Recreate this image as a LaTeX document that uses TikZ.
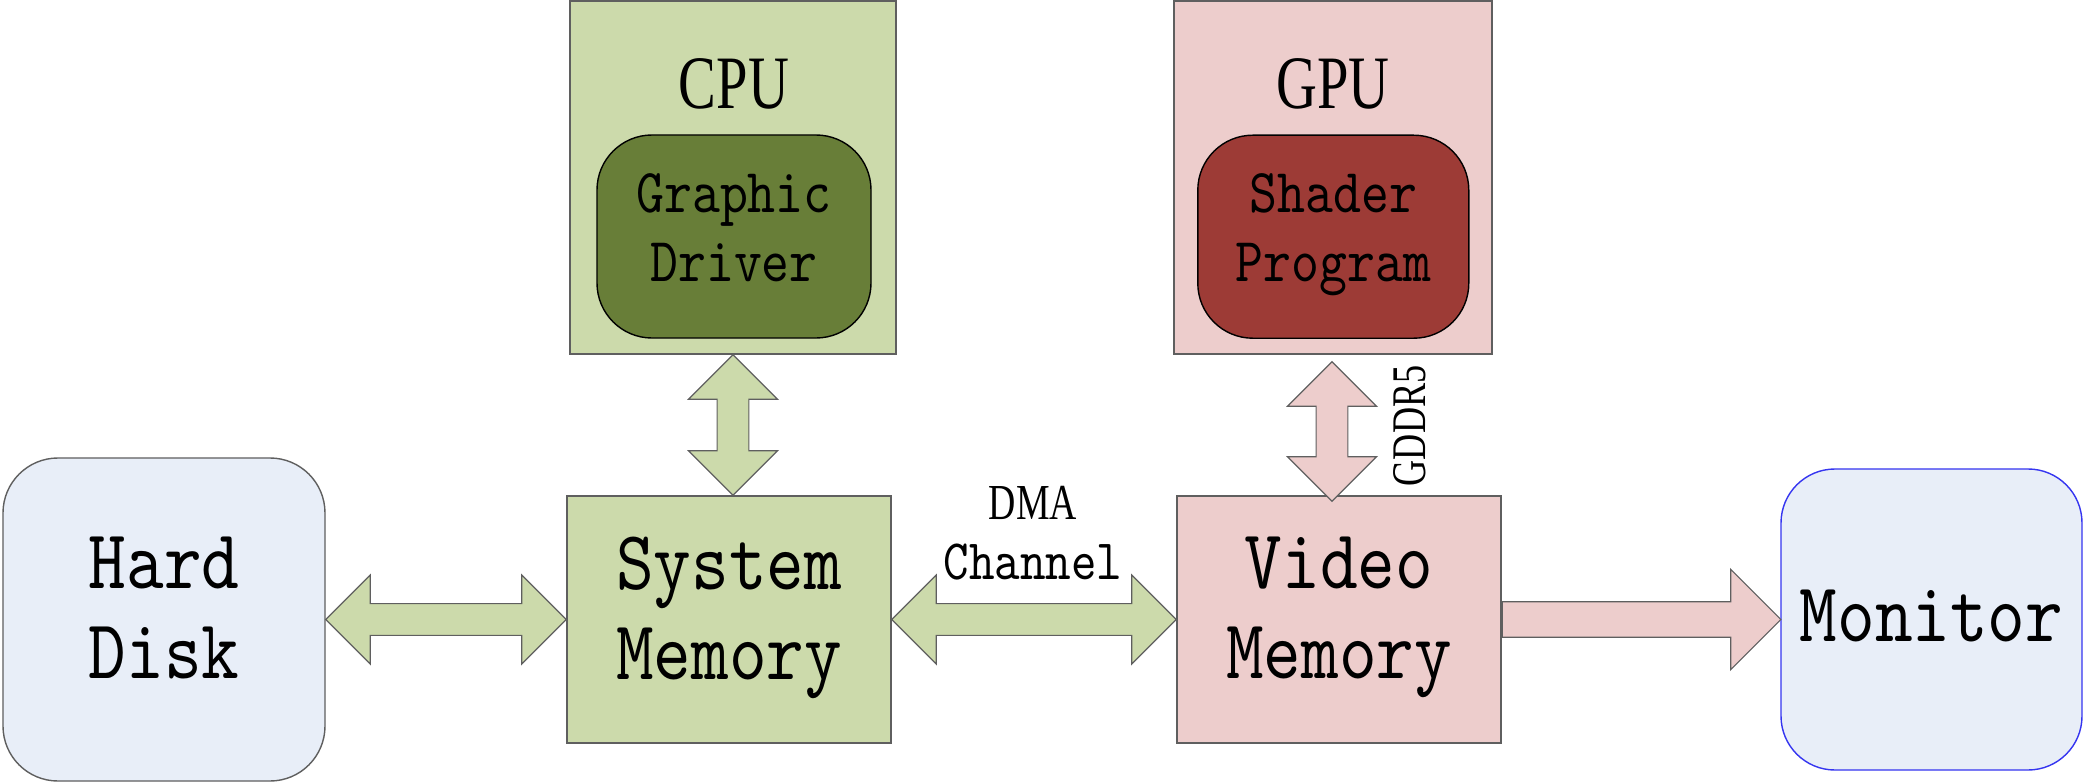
\documentclass[tikz,border=0pt]{standalone}
\usepackage{fontspec}
\usepackage{xcolor}
\usepackage{tikz}
\usetikzlibrary{shapes.arrows, calc}

\newfontfamily\monofont{lmmono10-regular.otf}[FakeStretch=0.85]
\newfontfamily\seriffont[FakeStretch=0.75]{Liberation Serif}
\newcommand{\bigfont}{\monofont\fontsize{36}{38.4}\selectfont}
\newcommand{\midfont}{\monofont\fontsize{26.7}{29.4}\selectfont}
\newcommand{\tstrut}{\rule[-.26\baselineskip]{0pt}{\baselineskip}}

\definecolor{memgreen}{HTML}{CCDAAB}
\definecolor{drvgreen}{HTML}{687E38}
\definecolor{mempink}{HTML}{EDCDCC}
\definecolor{shdred}{HTML}{9D3B36}
\definecolor{diskblue}{HTML}{E8EEF8}
\definecolor{edgegray}{HTML}{5F5F5F}
\definecolor{monblue}{HTML}{3535F0}

% fat bus arrow between two points, sized to their distance
\newcommand{\bus}[3]{\path let \p1=($(#3)-(#2)$), \n1={veclen(\x1,\y1)} in
  (#2) -- node[#1, sloped, minimum height=\n1] {} (#3);}
% one-way version, tail pinned to the start
\newcommand{\feed}[3]{\path let \p1=($(#3)-(#2)$), \n1={veclen(\x1,\y1)} in
  (#2) -- node[#1, sloped, pos=0, anchor=tail, minimum height=\n1] {} (#3);}

\begin{document}
\begin{tikzpicture}[x=0.015cm, y=-0.015cm,
    membox/.style={rectangle, draw=edgegray, line width=0.6pt, minimum width=4.86cm, minimum height=3.705cm, inner sep=0pt, align=center, font=\bigfont, execute at begin node=\tstrut, execute at end node=\tstrut},
    diskbox/.style={membox, fill=diskblue, minimum width=4.83cm, minimum height=4.845cm, rounded corners=0.825cm},
    chipbox/.style={rectangle, draw=edgegray, line width=0.6pt, minimum height=5.295cm, inner sep=0pt},
    unitbox/.style={rectangle, draw=black, line width=0.6pt, rounded corners=0.825cm, minimum height=3.045cm, inner sep=0pt, align=center, font=\midfont, execute at begin node=\tstrut, execute at end node=\tstrut},
    chiptitle/.style={anchor=base, inner sep=0pt, font=\seriffont\fontsize{32.2}{34}\selectfont},
    darrow/.style={double arrow, draw=edgegray, line width=0.5pt, inner xsep=0pt, inner ysep=0.229cm, minimum width=1.32cm, double arrow head extend=0.431cm, double arrow tip angle=90},
    sarrow/.style={single arrow, draw=edgegray, line width=0.5pt, inner xsep=0pt, inner ysep=0.257cm, minimum width=1.49cm, single arrow head extend=0.4875cm, single arrow tip angle=90},
    buslabel/.style={inner sep=0pt, align=center, font=\monofont\fontsize{24.4}{25.6}\selectfont}
]
\useasboundingbox (0,0) rectangle (2085,782);

% Memories and devices
\node[diskbox] (disk) at (164,619.5) {Hard\\Disk};
\node[membox, fill=memgreen] (sysmem) at (729,619.5) {System\\Memory};
\node[membox, fill=mempink] (vidmem) at (1339,619.5) {Video\\Memory};
\node[diskbox, draw=monblue, minimum width=4.515cm, minimum height=4.515cm, rounded corners=0.81cm] (monitor) at (1931.5,619.5) {Monitor};

% Processors
\node[chipbox, fill=memgreen, minimum width=4.89cm] (cpu) at (733,177.5) {};
\node[chiptitle] (cputitle) at (734,108.3) {CPU};
\node[unitbox, fill=drvgreen, minimum width=4.11cm] (driver) at (734,236.5) {Graphic\\Driver};

\node[chipbox, fill=mempink, minimum width=4.77cm] (gpu) at (1333,177.5) {};
\node[chiptitle] (gputitle) at (1333,108.3) {GPU};
\node[unitbox, fill=shdred, minimum width=4.065cm] (shader) at (1333.3,236.7) {Shader\\Program};

% Buses
\coordinate (gpuport) at ($(gpu.south)+(-1,7)$);
\coordinate (vidport) at ($(gpuport |- vidmem.north)+(0,6)$);
\bus{darrow, fill=memgreen}{disk.east}{sysmem.west}
\bus{darrow, fill=memgreen}{cpu.south}{cpu.south |- sysmem.north}
\bus{darrow, fill=memgreen}{sysmem.east}{vidmem.west}
\bus{darrow, fill=mempink}{gpuport}{vidport}
\feed{sarrow, fill=mempink}{vidmem.east}{monitor.west}

% Bus labels
\node[buslabel, execute at begin node=\tstrut, execute at end node=\tstrut] (dma) at (1033,540.6) {{\seriffont\fontsize{21.5}{25.6}\selectfont DMA}\\Channel};
\node[buslabel, rotate=90, font=\seriffont\fontsize{20.6}{22}\selectfont] (gddr) at (1410,425.8) {GDDR5};

\end{tikzpicture}
\end{document}
